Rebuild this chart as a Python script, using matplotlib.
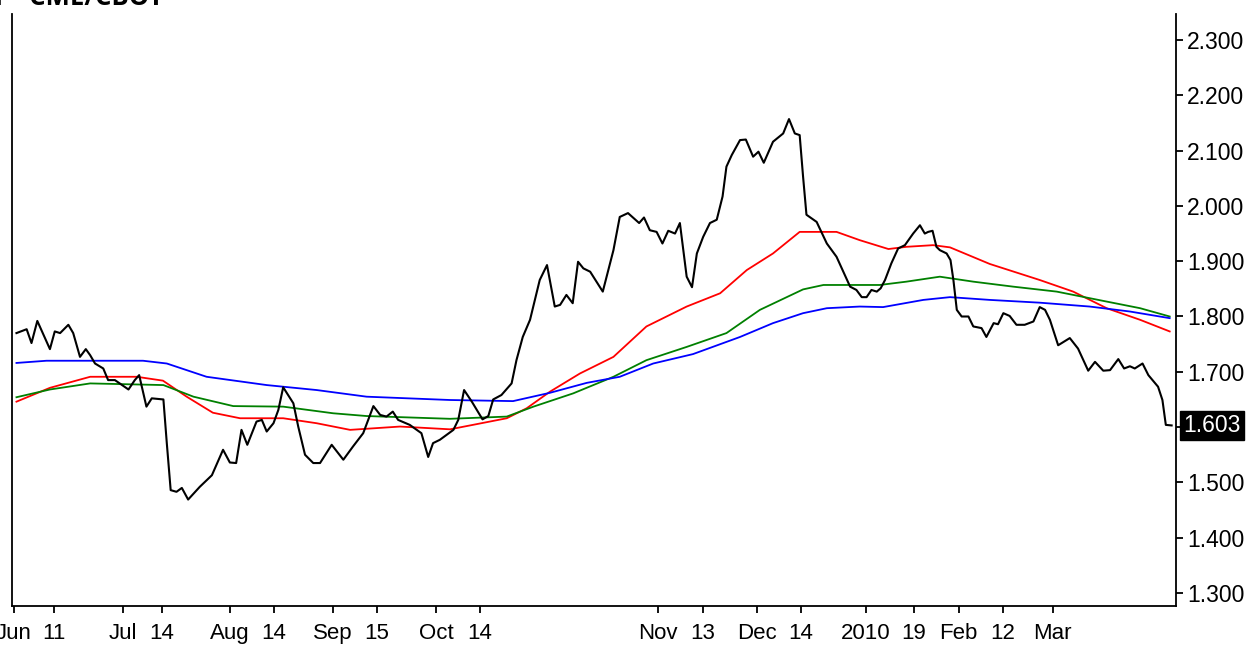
import matplotlib
matplotlib.use("Agg")
import matplotlib.pyplot as plt
from matplotlib.ticker import FixedLocator, FuncFormatter

matplotlib.rcParams['font.family'] = ['Liberation Sans', 'DejaVu Sans']

# trading-session index (0 = first bar) and settlement price
price_day = [0.1, 2.2, 3.2, 4.4, 7.0, 8.0, 9.1, 10.8, 11.8, 13.2, 14.4, 15.3, 16.3, 18.0, 19.0,
             20.4, 23.2, 24.5, 25.4, 26.9, 28.0, 30.4, 31.1, 31.9, 33.1, 34.2, 35.5, 37.9, 40.4,
             42.7, 44.1, 45.4, 46.5, 47.7, 49.6, 50.7, 51.7, 53.1, 54.1, 55.1, 57.2, 58.2, 59.6,
             61.3, 62.7, 65.1, 67.5, 69.5, 71.6, 73.7, 75.1, 76.4, 77.7, 78.8, 81.2, 83.6, 85.0,
             86.0, 87.4, 90.2, 91.2, 92.4, 94.0, 96.2, 97.4, 98.4, 100.1, 102.2, 103.2, 104.5,
             106.0, 108.0, 109.5, 111.1, 112.2, 113.5, 114.8, 115.9, 117.0, 118.4, 121.0, 123.2,
             124.5, 126.2, 128.5, 129.5, 130.7, 132.1, 133.3, 134.5, 135.9, 136.9, 138.3, 139.4,
             140.4, 141.7, 143.1, 144.5, 145.7, 146.5, 147.6, 149.3, 150.5, 152.0, 153.1, 154.2,
             156.1, 158.2, 159.4, 160.6, 161.6, 162.3, 163.0, 165.1, 167.2, 169.2, 172.0, 173.3,
             174.4, 175.4, 176.4, 177.5, 178.3, 179.2, 180.5, 181.9, 183.3, 185.0, 186.4, 187.4,
             188.1, 189.0, 189.8, 190.5, 191.9, 192.7, 193.3, 194.0, 195.0, 196.4, 197.4, 199.1,
             200.1, 201.6, 202.5, 203.6, 204.9, 206.3, 208.0, 209.8, 211.1, 212.2, 213.2, 214.9,
             217.3, 219.0, 221.1, 222.5, 224.2, 225.6, 227.3, 228.5, 229.7, 230.7, 232.3, 233.5,
             235.5, 236.4, 237.1, 238.3]
price_val = [1.770, 1.777, 1.752, 1.792, 1.741, 1.773, 1.770, 1.785, 1.770, 1.727, 1.741, 1.730,
             1.715, 1.706, 1.685, 1.685, 1.668, 1.685, 1.694, 1.637, 1.652, 1.650, 1.571, 1.486,
             1.483, 1.490, 1.469, 1.492, 1.513, 1.559, 1.536, 1.535, 1.595, 1.568, 1.610, 1.613,
             1.592, 1.607, 1.631, 1.672, 1.643, 1.601, 1.550, 1.535, 1.535, 1.568, 1.541, 1.565,
             1.589, 1.638, 1.622, 1.619, 1.628, 1.613, 1.604, 1.589, 1.546, 1.571, 1.577, 1.595,
             1.613, 1.667, 1.646, 1.614, 1.620, 1.650, 1.658, 1.679, 1.721, 1.763, 1.794, 1.866,
             1.893, 1.818, 1.821, 1.839, 1.824, 1.899, 1.887, 1.881, 1.845, 1.920, 1.980, 1.987,
             1.969, 1.979, 1.956, 1.953, 1.932, 1.955, 1.950, 1.969, 1.872, 1.853, 1.914, 1.944,
             1.969, 1.975, 2.017, 2.071, 2.092, 2.119, 2.120, 2.089, 2.098, 2.078, 2.116, 2.131,
             2.157, 2.131, 2.128, 2.053, 1.984, 1.971, 1.932, 1.908, 1.854, 1.848, 1.835, 1.835,
             1.848, 1.845, 1.851, 1.866, 1.896, 1.923, 1.929, 1.950, 1.965, 1.950, 1.953, 1.955,
             1.926, 1.920, 1.914, 1.902, 1.866, 1.812, 1.800, 1.800, 1.782, 1.779, 1.763, 1.788,
             1.786, 1.806, 1.801, 1.785, 1.785, 1.791, 1.817, 1.812, 1.794, 1.748, 1.761, 1.742,
             1.702, 1.718, 1.702, 1.703, 1.723, 1.706, 1.710, 1.706, 1.715, 1.694, 1.673, 1.649,
             1.604, 1.603]

# moving averages
red_day = [0.1, 7.0, 15.3, 24.9, 30.3, 35.2, 40.6, 46.2, 55.1, 62.0, 68.9, 79.2, 89.5, 94.2,
           101.2, 105.3, 110.1, 116.3, 123.2, 130.0, 138.3, 145.2, 150.7, 156.1, 161.6, 169.2,
           174.0, 179.9, 183.6, 189.1, 192.6, 200.8, 211.1, 218.0, 224.9, 231.8, 237.9]
red_val = [1.646, 1.671, 1.691, 1.691, 1.684, 1.655, 1.626, 1.616, 1.616, 1.607, 1.595, 1.601,
           1.596, 1.604, 1.616, 1.634, 1.664, 1.697, 1.727, 1.782, 1.818, 1.842, 1.884, 1.914,
           1.953, 1.953, 1.938, 1.922, 1.926, 1.929, 1.925, 1.895, 1.866, 1.845, 1.815, 1.794,
           1.773]

green_day = [0.1, 7.0, 15.3, 30.4, 36.6, 44.8, 55.1, 65.4, 72.3, 89.5, 101.2, 106.7, 114.9,
             123.2, 130.0, 138.3, 146.5, 153.4, 162.3, 166.5, 174.0, 178.1, 183.6, 190.5, 197.4,
             205.6, 214.6, 224.9, 231.8, 237.9]
green_val = [1.654, 1.668, 1.679, 1.676, 1.655, 1.638, 1.637, 1.625, 1.620, 1.615, 1.619, 1.637,
             1.661, 1.691, 1.721, 1.745, 1.770, 1.812, 1.849, 1.857, 1.857, 1.857, 1.863, 1.872,
             1.863, 1.854, 1.845, 1.827, 1.815, 1.800]

blue_day = [0.1, 6.3, 26.2, 31.1, 39.3, 51.7, 62.0, 72.3, 89.5, 102.5, 110.1, 117.7, 124.5,
            131.4, 139.6, 149.3, 156.1, 162.3, 167.2, 174.0, 178.8, 187.1, 192.6, 200.8, 211.1,
            221.4, 229.7, 237.9]
blue_val = [1.716, 1.720, 1.720, 1.715, 1.691, 1.676, 1.667, 1.655, 1.649, 1.647, 1.662, 1.680,
            1.691, 1.715, 1.732, 1.763, 1.788, 1.806, 1.815, 1.818, 1.817, 1.830, 1.835, 1.830,
            1.825, 1.818, 1.809, 1.797]

tick_day = [-0.4, 7.8, 22.1, 30.1, 44.1, 53.2, 65.4, 74.4, 86.6, 95.7, 132.4, 141.6, 152.8,
            161.9, 175.3, 185.2, 194.4, 203.5, 213.8]
tick_text = ['Jun', '11', 'Jul', '14', 'Aug', '14', 'Sep', '15', 'Oct', '14', 'Nov', '13',
             'Dec', '14', '2010', '19', 'Feb', '12', 'Mar']

y_ticks = [1.3, 1.4, 1.5, 1.6, 1.7, 1.8, 1.9, 2.0, 2.1, 2.2, 2.3]
last_price = 1.603

fig = plt.figure(figsize=(12.56, 6.45), dpi=100)
ax = fig.add_axes([12 / 1256, 39 / 645, 1164 / 1256, 592 / 645])

ax.plot(red_day, red_val, color='#ff0000', lw=1.3, zorder=2)
ax.plot(green_day, green_val, color='#008000', lw=1.3, zorder=2)
ax.plot(blue_day, blue_val, color='#0000ff', lw=1.3, zorder=2)
ax.plot(price_day, price_val, color='black', lw=1.5, zorder=3)

ax.set_xlim(-0.82, 239.2)
ax.set_ylim(1.2765, 2.347)

ax.spines['top'].set_visible(False)
for s in ['left', 'right', 'bottom']:
    ax.spines[s].set_linewidth(1.3)

ax.xaxis.set_major_locator(FixedLocator(tick_day))
ax.set_xticklabels(tick_text)
ax.tick_params(axis='x', direction='out', length=5, width=1.3, labelsize=16, pad=7)

ax.yaxis.tick_right()
ax.yaxis.set_major_locator(FixedLocator(y_ticks))
ax.yaxis.set_major_formatter(FuncFormatter(
    lambda v, p: '' if abs(v - 1.6) < 1e-6 else f'{v:.3f}'))
ax.tick_params(axis='y', direction='out', length=5, width=1.3, labelsize=16.5, pad=3)

ax.text(1.006, last_price, f'{last_price:.3f}', transform=ax.get_yaxis_transform(),
        ha='left', va='center', fontsize=16.5, color='white', clip_on=False,
        bbox=dict(boxstyle='square,pad=0.15', facecolor='black', edgecolor='black'))

fig.text(163 / 1256, (645 - 5) / 645, 'Ethanol \u2013 CME/CBOT', ha='right', va='baseline',
         fontsize=18.5, fontweight='bold', family=['Open Sans', 'DejaVu Sans'])

fig.savefig('out.png', dpi=100)
